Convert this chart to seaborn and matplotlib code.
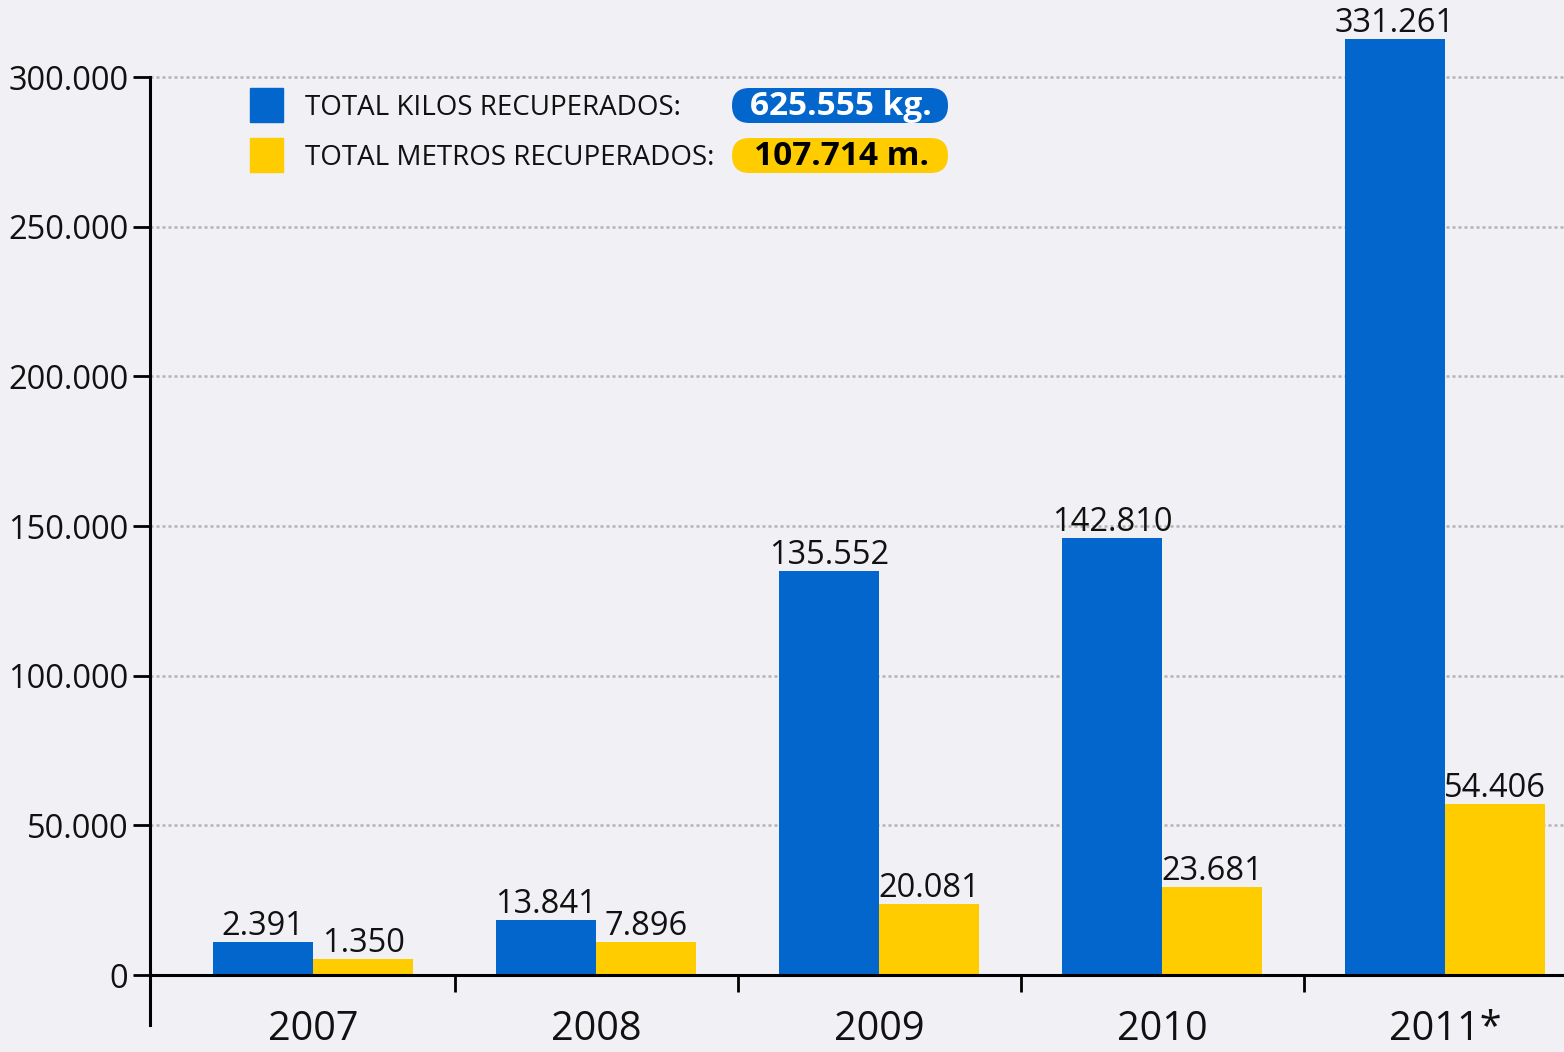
import numpy as np
import pandas as pd
import matplotlib
matplotlib.use("Agg")
import matplotlib.pyplot as plt
import seaborn as sns
from matplotlib.patches import FancyBboxPatch, Rectangle
from matplotlib.ticker import FuncFormatter, FixedLocator

# datos (alturas, etiquetas tal como aparecen)
years = ['2007', '2008', '2009', '2010', '2011*']
kilos_bar = [11100, 18400, 135100, 146100, 312800]
metros_bar = [5450, 11000, 23700, 29500, 57200]
kilos_labels = ['2.391', '13.841', '135.552', '142.810', '331.261']
metros_labels = ['1.350', '7.896', '20.081', '23.681', '54.406']
series = ['TOTAL KILOS RECUPERADOS:', 'TOTAL METROS RECUPERADOS:']
totals = ['625.555 kg.', '107.714 m.']

blue = '#0366CC'
yellow = '#FFCC00'
bg = '#F0F0F5'

df = pd.DataFrame({
    'year': years * 2,
    'value': kilos_bar + metros_bar,
    'serie': [series[0]] * len(years) + [series[1]] * len(years),
})

sns.set_theme(style='white')
plt.rcParams['font.family'] = ['Open Sans', 'DejaVu Sans']

fig = plt.figure(figsize=(15.64, 10.52), dpi=100, facecolor=bg)
ax = fig.add_axes([150 / 1564, 27 / 1052, 1414 / 1564, 1025 / 1052])
ax.set_facecolor(bg)

sns.barplot(data=df, x='year', y='value', hue='serie', palette=[blue, yellow],
            width=0.707, saturation=1, linewidth=0, legend=False, ax=ax)

ax.bar_label(ax.containers[0], labels=kilos_labels, fontsize=23.5, color='#111111', padding=-1)
ax.bar_label(ax.containers[1], labels=metros_labels, fontsize=23.5, color='#111111', padding=-1)

ax.set_xlim(-0.576, 4.42)
ax.set_ylim(-16700, 325730)
ax.set_xlabel('')
ax.set_ylabel('')

# eje y
ax.set_yticks([0, 50000, 100000, 150000, 200000, 250000, 300000])
ax.yaxis.set_major_formatter(FuncFormatter(lambda v, p: f'{int(v):,}'.replace(',', '.')))
ax.tick_params(axis='y', length=12, width=2, color='black', pad=3.5,
               labelsize=23.5, labelcolor='#111111', left=True)
ax.spines['left'].set_bounds(-16700, 300000)
ax.spines['left'].set_linewidth(2.2)
ax.spines['left'].set_color('black')

# eje x en 0
ax.spines['bottom'].set_position(('data', 0))
ax.spines['bottom'].set_linewidth(2.2)
ax.spines['bottom'].set_color('black')
ax.spines['top'].set_visible(False)
ax.spines['right'].set_visible(False)
ax.set_xticks(range(len(years)))
ax.set_xticklabels(years)
ax.xaxis.set_minor_locator(FixedLocator([0.5, 1.5, 2.5, 3.5]))
ax.tick_params(axis='x', which='major', length=0, pad=25, labelsize=28.5, labelcolor='#111111')
ax.tick_params(axis='x', which='minor', length=12, width=2, color='black', direction='out', bottom=True)

# rejilla punteada
for yv in [50000, 100000, 150000, 200000, 250000, 300000]:
    ax.axhline(yv, color='#B4B4B4', lw=1.8, ls=(0, (1.2, 1.2)), zorder=0)
ax.set_axisbelow(True)

# leyenda
W, H = 15.64, 10.52
for i, (col, txt, tot) in enumerate(zip([blue, yellow], series, totals)):
    top = 0.88 + i * 0.50
    fig.add_artist(Rectangle((2.50, H - top - 0.34), 0.33, 0.34, color=col,
                             transform=fig.dpi_scale_trans))
    fig.text(3.05 / W, (H - top - 0.20) / H, txt, fontsize=20, color='#111111',
             va='center', ha='left')
    fig.add_artist(FancyBboxPatch((7.32, H - top - 0.35), 2.16, 0.35,
                                  boxstyle='round,pad=0,rounding_size=0.175',
                                  fc=col, ec='none', transform=fig.dpi_scale_trans))
    fig.text(8.41 / W, (H - top - 0.185) / H, tot, fontsize=24, fontweight='bold',
             color='white' if i == 0 else 'black', va='center', ha='center')

plt.savefig('out.png', dpi=100, facecolor=bg)
